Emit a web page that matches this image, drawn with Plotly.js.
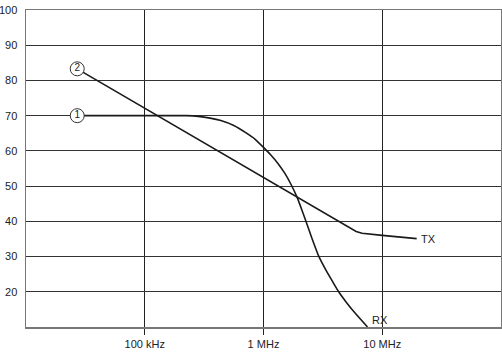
<!DOCTYPE html>
<html>
<head>
<meta charset="utf-8">
<script src="https://cdn.plot.ly/plotly-3.0.1.min.js"></script>
<style>html,body{margin:0;padding:0;background:#fff;}#chart{width:502px;height:352px;}</style>
</head>
<body>
<div id="chart"></div>
<script>
// Frequencies in Hz
const rxFreq = [27000, 100000, 224000, 282000, 355000, 437000, 562000, 714000, 851000, 1000000, 1148000, 1318000, 1514000, 1698000, 1919000, 2138000, 2344000, 2570000, 2917000, 3311000, 3802000, 4295000, 5012000, 6026000, 7516000];
const rxLevel = [70, 70, 70, 69.8, 69.3, 68.6, 67.2, 65.1, 63.3, 61, 58.9, 56.5, 53.6, 50.6, 46.8, 42.6, 38.8, 35.0, 30.1, 26.5, 23.0, 20, 16.9, 13.6, 10];
const txFreq = [27000, 5010000, 5500000, 6030000, 6760000, 7940000, 10000000, 19500000];
const txLevel = [83.3, 38.7, 37.8, 37.1, 36.6, 36.3, 36.0, 35.1];
const markerFreq = [27000, 27000];
const markerLevel = [83.3, 70];
const markerText = ['2', '1'];
const labelText = ['TX', 'RX'];
const labelFreq = [20500000, 7900000];
const labelLevel = [35.1, 12];
const xTickVals = [100000, 1000000, 10000000];
const xTickText = ['100 kHz', '1 MHz', '10 MHz'];
const yTickVals = [20, 30, 40, 50, 60, 70, 80, 90, 100];

const font = {family: 'Liberation Sans Narrow, Arial Narrow, Liberation Sans, sans-serif', size: 11, color: '#222'};

const traces = [
  {x: rxFreq, y: rxLevel, mode: 'lines', line: {color: '#1a1a1a', width: 1.6, shape: 'spline', smoothing: 0.5}, hoverinfo: 'skip'},
  {x: txFreq, y: txLevel, mode: 'lines', line: {color: '#1a1a1a', width: 1.6}, hoverinfo: 'skip'},
  {x: markerFreq, y: markerLevel, mode: 'markers+text', text: markerText, textposition: 'middle center',
   textfont: {family: font.family, size: 10, color: '#222'},
   marker: {size: 14, color: '#fff', line: {color: '#333', width: 1}}, hoverinfo: 'skip'}
];

const annotations = labelText.map((t, i) => ({
  x: Math.log10(labelFreq[i]), y: labelLevel[i], text: t, showarrow: false,
  xanchor: 'left', yanchor: 'middle', font: font
}));

const layout = {
  width: 502, height: 352,
  margin: {l: 26, r: 1, t: 10, b: 25, pad: 0},
  paper_bgcolor: '#fff', plot_bgcolor: '#fff',
  showlegend: false,
  font: font,
  xaxis: {
    type: 'log', range: [4, 8], tickvals: xTickVals, ticktext: xTickText,
    showgrid: true, gridcolor: '#222', gridwidth: 1,
    ticks: 'outside', ticklen: 6, tickcolor: '#222', tickwidth: 1,
    showline: true, mirror: true, linecolor: '#777', linewidth: 1.5,
    zeroline: false, tickfont: font, fixedrange: true
  },
  yaxis: {
    range: [10, 100], tickvals: yTickVals,
    showgrid: true, gridcolor: '#333', gridwidth: 1,
    ticks: '', ticklabelstandoff: 5,
    showline: true, mirror: true, linecolor: '#777', linewidth: 1.5,
    zeroline: false, tickfont: font, fixedrange: true
  },
  annotations: annotations
};

Plotly.newPlot('chart', traces, layout, {displayModeBar: false, staticPlot: true});
</script>
</body>
</html>
